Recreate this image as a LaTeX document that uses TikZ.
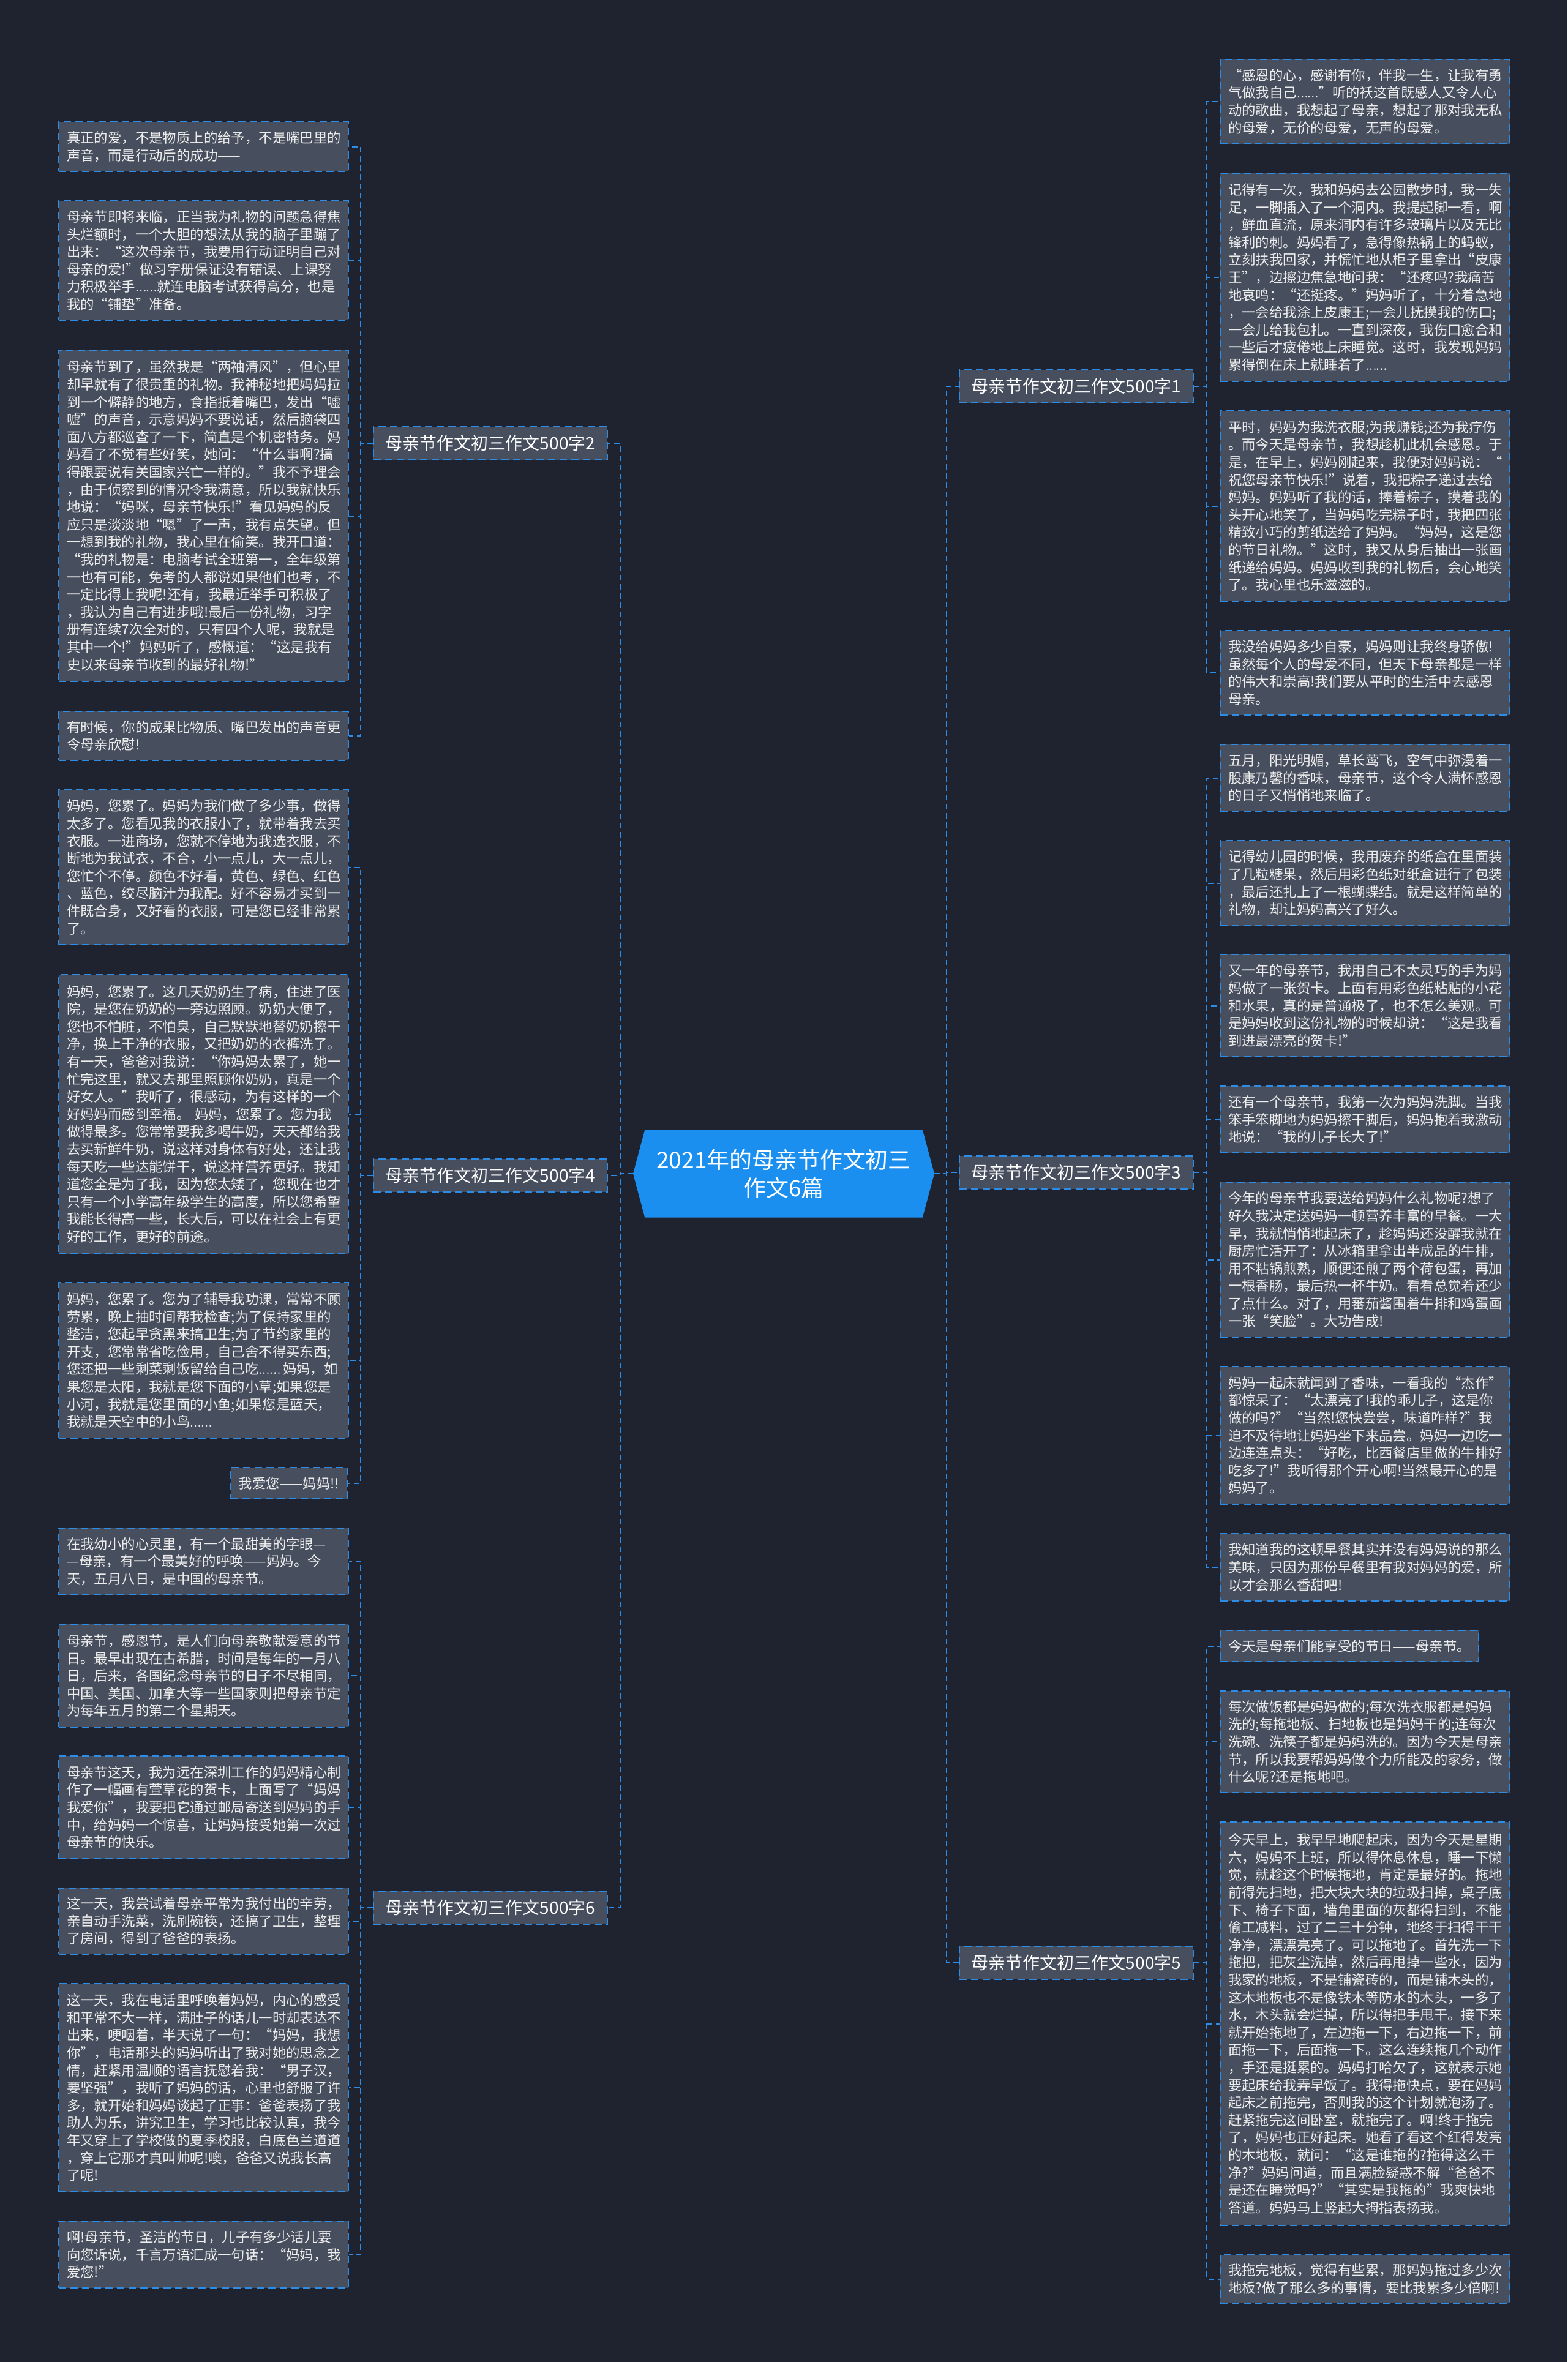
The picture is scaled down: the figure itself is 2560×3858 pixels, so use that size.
\documentclass[tikz,border=0pt]{standalone}
\usepackage{fontspec}
\usepackage{graphicx}
\setmainfont{Noto Sans CJK SC}
\usetikzlibrary{shapes.symbols}
\definecolor{bg}{HTML}{1F2330}
\definecolor{leaffill}{HTML}{474F5E}
\definecolor{lineblue}{HTML}{2C8CE6}
\definecolor{rootfill}{HTML}{1A8FEF}
\definecolor{txt}{HTML}{EDEDED}
\newcommand\ellip{\scalebox{0.75}[1]{……}}
\newcommand\leafL[4]{\node[leaf, anchor=north west, minimum height=#3pt] (#1) at (95,#2) {#4};}
\newcommand\leafR[4]{\node[leaf, anchor=north west, minimum height=#3pt] (#1) at (1992,#2) {#4};}
\begin{document}
\begin{tikzpicture}[x=1pt,y=-1pt,
  leaf/.style={draw=lineblue, line width=2pt, dash pattern=on 12pt off 7pt, fill=leaffill, text=txt,
    font=\fontsize{22.4}{28.6}\selectfont, align=left, text width=447pt, inner xsep=13pt, inner ysep=0pt},
  shortleaf/.style={draw=lineblue, line width=2pt, dash pattern=on 12pt off 7pt, fill=leaffill, text=txt,
    font=\fontsize{22.4}{28.6}\selectfont, inner xsep=13pt, inner ysep=0pt},
  bnode/.style={draw=lineblue, line width=2pt, dash pattern=on 12pt off 7pt, fill=leaffill, text=white,
    font=\fontsize{28}{32}\selectfont, minimum width=382pt, minimum height=54pt, inner sep=0pt},
  rootnode/.style={signal, signal to=west and east, signal pointer angle=150, fill=rootfill, text=white,
    font=\fontsize{37}{46}\selectfont, align=center, minimum width=492pt, minimum height=143pt, inner sep=0pt},
  conn/.style={draw=lineblue, line width=2pt, dash pattern=on 9pt off 6pt}
]
\fill[bg] (0,0) rectangle (2560,3858);
\useasboundingbox (0,0) rectangle (2560,3858);

% root and branches
\node[rootnode] (root) at (1280,1917) {2021年的母亲节作文初三\\作文6篇};
\node[bnode] (b1) at (1758,631) {母亲节作文初三作文500字1};
\node[bnode] (b3) at (1758,1915) {母亲节作文初三作文500字3};
\node[bnode] (b5) at (1758,3206) {母亲节作文初三作文500字5};
\node[bnode] (b2) at (801,724) {母亲节作文初三作文500字2};
\node[bnode] (b4) at (801,1920) {母亲节作文初三作文500字4};
\node[bnode] (b6) at (801,3116) {母亲节作文初三作文500字6};

% left leaves
\leafL{l1}{198}{81}{真正的爱，不是物质上的给予，不是嘴巴里的\\声音，而是行动后的成功——}
\leafL{l2}{327}{195}{母亲节即将来临，正当我为礼物的问题急得焦\\头烂额时，一个大胆的想法从我的脑子里蹦了\\出来：“这次母亲节，我要用行动证明自己对\\母亲的爱!”做习字册保证没有错误、上课努\\力积极举手\ellip 就连电脑考试获得高分，也是\\我的“铺垫”准备。}
\leafL{l3}{571}{541}{母亲节到了，虽然我是“两袖清风”，但心里\\却早就有了很贵重的礼物。我神秘地把妈妈拉\\到一个僻静的地方，食指抵着嘴巴，发出“嘘\\嘘”的声音，示意妈妈不要说话，然后脑袋四\\面八方都巡查了一下，简直是个机密特务。妈\\妈看了不觉有些好笑，她问：“什么事啊?搞\\得跟要说有关国家兴亡一样的。”我不予理会\\，由于侦察到的情况令我满意，所以我就快乐\\地说：“妈咪，母亲节快乐!”看见妈妈的反\\应只是淡淡地“嗯”了一声，我有点失望。但\\一想到我的礼物，我心里在偷笑。我开口道：\\“我的礼物是：电脑考试全班第一，全年级第\\一也有可能，免考的人都说如果他们也考，不\\一定比得上我呢!还有，我最近举手可积极了\\，我认为自己有进步哦!最后一份礼物，习字\\册有连续7次全对的，只有四个人呢，我就是\\其中一个!”妈妈听了，感慨道：“这是我有\\史以来母亲节收到的最好礼物!”}
\leafL{l4}{1161}{80}{有时候，你的成果比物质、嘴巴发出的声音更\\令母亲欣慰!}
\leafL{l5}{1289}{253}{妈妈，您累了。妈妈为我们做了多少事，做得\\太多了。您看见我的衣服小了，就带着我去买\\衣服。一进商场，您就不停地为我选衣服，不\\断地为我试衣，不合，小一点儿，大一点儿，\\您忙个不停。颜色不好看，黄色、绿色、红色\\、蓝色，绞尽脑汁为我配。好不容易才买到一\\件既合身，又好看的衣服，可是您已经非常累\\了。}
\leafL{l6}{1591}{456}{妈妈，您累了。这几天奶奶生了病，住进了医\\院，是您在奶奶的一旁边照顾。奶奶大便了，\\您也不怕脏，不怕臭，自己默默地替奶奶擦干\\净，换上干净的衣服，又把奶奶的衣裤洗了。\\有一天，爸爸对我说：“你妈妈太累了，她一\\忙完这里，就又去那里照顾你奶奶，真是一个\\好女人。”我听了，很感动，为有这样的一个\\好妈妈而感到幸福。~妈妈，您累了。您为我\\做得最多。您常常要我多喝牛奶，天天都给我\\去买新鲜牛奶，说这样对身体有好处，还让我\\每天吃一些达能饼干，说这样营养更好。我知\\道您全是为了我，因为您太矮了，您现在也才\\只有一个小学高年级学生的高度，所以您希望\\我能长得高一些，长大后，可以在社会上有更\\好的工作，更好的前途。}
\leafL{l7}{2094}{254}{妈妈，您累了。您为了辅导我功课，常常不顾\\劳累，晚上抽时间帮我检查;为了保持家里的\\整洁，您起早贪黑来搞卫生;为了节约家里的\\开支，您常常省吃俭用，自己舍不得买东西;\\您还把一些剩菜剩饭留给自己吃\ellip\kern4pt 妈妈，如\\果您是太阳，我就是您下面的小草;如果您是\\小河，我就是您里面的小鱼;如果您是蓝天，\\我就是天空中的小鸟\ellip}
\node[shortleaf, anchor=north east, minimum height=51pt] (l8) at (568,2396) {我爱您——妈妈!!};
\leafL{l9}{2495}{109}{在我幼小的心灵里，有一个最甜美的字眼—\\—母亲，有一个最美好的呼唤——妈妈。今\\天，五月八日，是中国的母亲节。}
\leafL{l10}{2652}{168}{母亲节，感恩节，是人们向母亲敬献爱意的节\\日。最早出现在古希腊，时间是每年的一月八\\日，后来，各国纪念母亲节的日子不尽相同，\\中国、美国、加拿大等一些国家则把母亲节定\\为每年五月的第二个星期天。}
\leafL{l11}{2867}{168}{母亲节这天，我为远在深圳工作的妈妈精心制\\作了一幅画有萱草花的贺卡，上面写了“妈妈\\我爱你”，我要把它通过邮局寄送到妈妈的手\\中，给妈妈一个惊喜，让妈妈接受她第一次过\\母亲节的快乐。}
\leafL{l12}{3083}{108}{这一天，我尝试着母亲平常为我付出的辛劳，\\亲自动手洗菜，洗刷碗筷，还搞了卫生，整理\\了房间，得到了爸爸的表扬。}
\leafL{l13}{3239}{340}{这一天，我在电话里呼唤着妈妈，内心的感受\\和平常不大一样，满肚子的话儿一时却表达不\\出来，哽咽着，半天说了一句：“妈妈，我想\\你”，电话那头的妈妈听出了我对她的思念之\\情，赶紧用温顺的语言抚慰着我：“男子汉，\\要坚强”，我听了妈妈的话，心里也舒服了许\\多，就开始和妈妈谈起了正事：爸爸表扬了我\\助人为乐，讲究卫生，学习也比较认真，我今\\年又穿上了学校做的夏季校服，白底色兰道道\\，穿上它那才真叫帅呢!噢，爸爸又说我长高\\了呢!}
\leafL{l14}{3627}{109}{啊!母亲节，圣洁的节日，儿子有多少话儿要\\向您诉说，千言万语汇成一句话：“妈妈，我\\爱您!”}

% right leaves
\leafR{r1}{96}{138}{“感恩的心，感谢有你，伴我一生，让我有勇\\气做我自己\ellip”听的袄这首既感人又令人心\\动的歌曲，我想起了母亲，想起了那对我无私\\的母爱，无价的母爱，无声的母爱。}
\leafR{r2}{282}{340}{记得有一次，我和妈妈去公园散步时，我一失\\足，一脚插入了一个洞内。我提起脚一看，啊\\，鲜血直流，原来洞内有许多玻璃片以及无比\\锋利的刺。妈妈看了，急得像热锅上的蚂蚁，\\立刻扶我回家，并慌忙地从柜子里拿出“皮康\\王”，边擦边焦急地问我：“还疼吗?我痛苦\\地哀鸣：“还挺疼。”妈妈听了，十分着急地\\，一会给我涂上皮康王;一会儿抚摸我的伤口;\\一会儿给我包扎。一直到深夜，我伤口愈合和\\一些后才疲倦地上床睡觉。这时，我发现妈妈\\累得倒在床上就睡着了\ellip}
\leafR{r3}{670}{311}{平时，妈妈为我洗衣服;为我赚钱;还为我疗伤\\。而今天是母亲节，我想趁机此机会感恩。于\\是，在早上，妈妈刚起来，我便对妈妈说：“\\祝您母亲节快乐!”说着，我把粽子递过去给\\妈妈。妈妈听了我的话，捧着粽子，摸着我的\\头开心地笑了，当妈妈吃完粽子时，我把四张\\精致小巧的剪纸送给了妈妈。“妈妈，这是您\\的节日礼物。”这时，我又从身后抽出一张画\\纸递给妈妈。妈妈收到我的礼物后，会心地笑\\了。我心里也乐滋滋的。}
\leafR{r4}{1029}{138}{我没给妈妈多少自豪，妈妈则让我终身骄傲!\\虽然每个人的母爱不同，但天下母亲都是一样\\的伟大和崇高!我们要从平时的生活中去感恩\\母亲。}
\leafR{r5}{1215}{109}{五月，阳光明媚，草长莺飞，空气中弥漫着一\\股康乃馨的香味，母亲节，这个令人满怀感恩\\的日子又悄悄地来临了。}
\leafR{r6}{1372}{139}{记得幼儿园的时候，我用废弃的纸盒在里面装\\了几粒糖果，然后用彩色纸对纸盒进行了包装\\，最后还扎上了一根蝴蝶结。就是这样简单的\\礼物，却让妈妈高兴了好久。}
\leafR{r7}{1558}{167}{又一年的母亲节，我用自己不太灵巧的手为妈\\妈做了一张贺卡。上面有用彩色纸粘贴的小花\\和水果，真的是普通极了，也不怎么美观。可\\是妈妈收到这份礼物的时候却说：“这是我看\\到进最漂亮的贺卡!”}
\leafR{r8}{1773}{109}{还有一个母亲节，我第一次为妈妈洗脚。当我\\笨手笨脚地为妈妈擦干脚后，妈妈抱着我激动\\地说：“我的儿子长大了!”}
\leafR{r9}{1930}{253}{今年的母亲节我要送给妈妈什么礼物呢?想了\\好久我决定送妈妈一顿营养丰富的早餐。一大\\早，我就悄悄地起床了，趁妈妈还没醒我就在\\厨房忙活开了：从冰箱里拿出半成品的牛排，\\用不粘锅煎熟，顺便还煎了两个荷包蛋，再加\\一根香肠，最后热一杯牛奶。看看总觉着还少\\了点什么。对了，用蕃茄酱围着牛排和鸡蛋画\\一张“笑脸”。大功告成!}
\leafR{r10}{2231}{225}{妈妈一起床就闻到了香味，一看我的“杰作”\\都惊呆了：“太漂亮了!我的乖儿子，这是你\\做的吗?”“当然!您快尝尝，味道咋样?”我\\迫不及待地让妈妈坐下来品尝。妈妈一边吃一\\边连连点头：“好吃，比西餐店里做的牛排好\\吃多了!”我听得那个开心啊!当然最开心的是\\妈妈了。}
\leafR{r11}{2504}{110}{我知道我的这顿早餐其实并没有妈妈说的那么\\美味，只因为那份早餐里有我对妈妈的爱，所\\以才会那么香甜吧!}
\node[shortleaf, anchor=north west, minimum height=51pt] (r12) at (1992,2662) {今天是母亲们能享受的节日——母亲节。};
\leafR{r13}{2761}{166}{每次做饭都是妈妈做的;每次洗衣服都是妈妈\\洗的;每拖地板、扫地板也是妈妈干的;连每次\\洗碗、洗筷子都是妈妈洗的。因为今天是母亲\\节，所以我要帮妈妈做个力所能及的家务，做\\什么呢?还是拖地吧。}
\leafR{r14}{2975}{659}{今天早上，我早早地爬起床，因为今天是星期\\六，妈妈不上班，所以得休息休息，睡一下懒\\觉，就趁这个时候拖地，肯定是最好的。拖地\\前得先扫地，把大块大块的垃圾扫掉，桌子底\\下、椅子下面，墙角里面的灰都得扫到，不能\\偷工减料，过了二三十分钟，地终于扫得干干\\净净，漂漂亮亮了。可以拖地了。首先洗一下\\拖把，把灰尘洗掉，然后再甩掉一些水，因为\\我家的地板，不是铺瓷砖的，而是铺木头的，\\这木地板也不是像铁木等防水的木头，一多了\\水，木头就会烂掉，所以得把手甩干。接下来\\就开始拖地了，左边拖一下，右边拖一下，前\\面拖一下，后面拖一下。这么连续拖几个动作\\，手还是挺累的。妈妈打哈欠了，这就表示她\\要起床给我弄早饭了。我得拖快点，要在妈妈\\起床之前拖完，否则我的这个计划就泡汤了。\\赶紧拖完这间卧室，就拖完了。啊!终于拖完\\了，妈妈也正好起床。她看了看这个红得发亮\\的木地板，就问：“这是谁拖的?拖得这么干\\净?”妈妈问道，而且满脸疑惑不解“爸爸不\\是还在睡觉吗?”“其实是我拖的”我爽快地\\答道。妈妈马上竖起大拇指表扬我。}
\leafR{r15}{3682}{79}{我拖完地板，觉得有些累，那妈妈拖过多少次\\地板?做了那么多的事情，要比我累多少倍啊!}

% connectors root -> branches
\foreach \b in {b2,b4,b6}{\draw[conn] (root.west) -- ++(-21,0) |- (\b.east);}
\foreach \b in {b1,b3,b5}{\draw[conn] (root.east) -- ++(20,0) |- (\b.west);}
% branches -> leaves
\foreach \l in {l1,l2,l3,l4}{\draw[conn] (b2.west) -- ++(-20,0) |- (\l.east);}
\foreach \l in {l5,l6,l7,l8}{\draw[conn] (b4.west) -- ++(-20,0) |- (\l.east);}
\foreach \l in {l9,l10,l11,l12,l13,l14}{\draw[conn] (b6.west) -- ++(-20,0) |- (\l.east);}
\foreach \r in {r1,r2,r3,r4}{\draw[conn] (b1.east) -- ++(21,0) |- (\r.west);}
\foreach \r in {r5,r6,r7,r8,r9,r10,r11}{\draw[conn] (b3.east) -- ++(21,0) |- (\r.west);}
\foreach \r in {r12,r13,r14,r15}{\draw[conn] (b5.east) -- ++(21,0) |- (\r.west);}
\end{tikzpicture}
\end{document}
